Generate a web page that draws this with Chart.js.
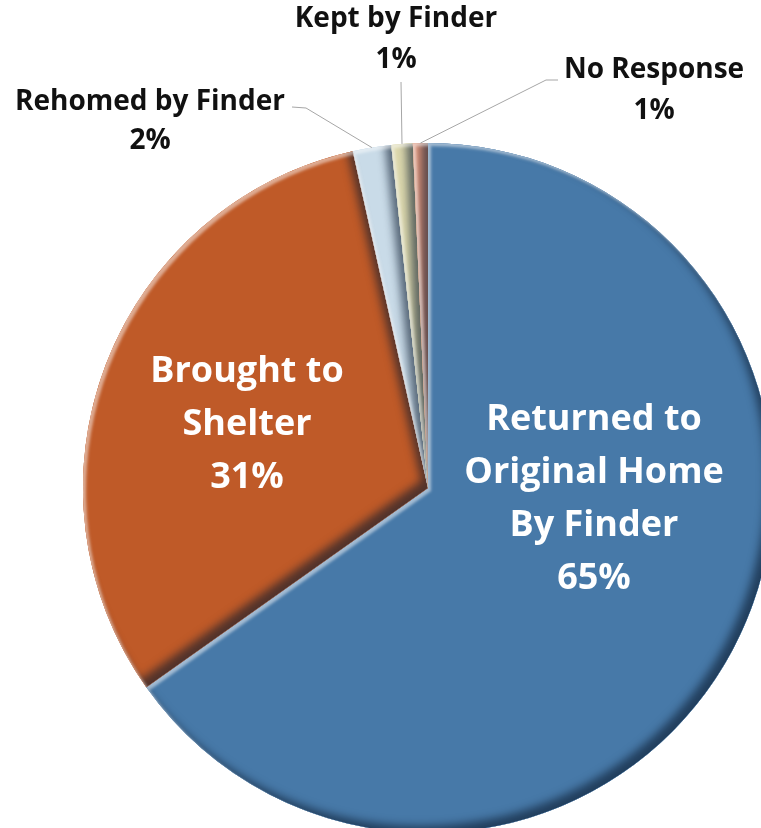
<!DOCTYPE html>
<html>
<head>
<meta charset="utf-8">
<script src="https://cdn.jsdelivr.net/npm/chart.js@4.4.1/dist/chart.umd.min.js"></script>
<style>
  html, body { margin: 0; padding: 0; background: #fff; overflow: hidden; }
  #wrap { position: relative; width: 761px; height: 828px; overflow: hidden; }
  #pie { position: absolute; left: 0; top: 0; }
</style>
</head>
<body>
<div id="wrap"><canvas id="pie" width="773" height="833"></canvas></div>
<script>
// slice names (one entry per line of the label)
const categories = [
  ["Returned to", "Original Home", "By Finder"],
  ["Brought to", "Shelter"],
  ["Rehomed by Finder"],
  ["Kept by Finder"],
  ["No Response"]
];
// share of responses, percent
const shares = [65.2, 31.3, 1.8, 1.0, 0.7];
const sliceColors = ["#4779a8", "#bf5a28", "#c9dbe8", "#dcd8ad", "#e4987d"];

// where the label text sits (inside labels for big slices, callouts for small ones)
const labelSpots = [
  { x: 594, y: 420, gap: 53, color: "#fff", size: 36 },
  { x: 247, y: 372, gap: 53, color: "#fff", size: 36 },
  { x: 150, y: 102, gap: 39, color: "#111", size: 28, leader: [[292, 107], [306, 108]] },
  { x: 396, y: 19, gap: 41, color: "#111", size: 28, leader: [[401, 82]] },
  { x: 654, y: 70, gap: 41, color: "#111", size: 28, leader: [[558, 80], [546, 80]] }
];

const canvas = document.getElementById("pie");

function sectorPath(ctx, x, y, r, a0, a1) {
  ctx.moveTo(x, y);
  ctx.arc(x, y, r, a0, a1);
  ctx.closePath();
}

// soft bevel: light along upper-left edges, dark along lower-right
const bevel = {
  id: "bevel",
  afterDatasetsDraw(chart) {
    const ctx = chart.ctx;
    chart.getDatasetMeta(0).data.forEach((arc, i) => {
      const p = arc.getProps(["x", "y", "startAngle", "endAngle", "outerRadius"]);
      ctx.save();
      ctx.beginPath();
      sectorPath(ctx, p.x, p.y, p.outerRadius, p.startAngle, p.endAngle);
      ctx.clip();
      const passes = [
        [-7, -7, 8, "rgba(10,25,45,0.6)"],
        [3, 3, 3, "rgba(255,255,255,0.5)"]
      ];
      passes.forEach(([dx, dy, blur, col]) => {
        ctx.save();
        ctx.beginPath();
        ctx.rect(-3000, -3000, 7000, 7000);
        sectorPath(ctx, p.x, p.y, p.outerRadius, p.startAngle, p.endAngle);
        ctx.shadowColor = col;
        ctx.shadowBlur = blur;
        ctx.shadowOffsetX = dx;
        ctx.shadowOffsetY = dy;
        ctx.fillStyle = sliceColors[i];
        ctx.fill("evenodd");
        ctx.restore();
      });
      ctx.restore();
    });
  }
};

const sliceLabels = {
  id: "sliceLabels",
  afterDraw(chart) {
    const ctx = chart.ctx;
    const arcs = chart.getDatasetMeta(0).data;
    ctx.save();
    arcs.forEach((arc, i) => {
      const spot = labelSpots[i];
      if (spot.leader) {
        const p = arc.getProps(["x", "y", "startAngle", "endAngle", "outerRadius"]);
        const mid = (p.startAngle + p.endAngle) / 2;
        const ex = p.x + Math.cos(mid) * p.outerRadius;
        const ey = p.y + Math.sin(mid) * p.outerRadius;
        ctx.beginPath();
        ctx.moveTo(spot.leader[0][0], spot.leader[0][1]);
        spot.leader.slice(1).forEach(pt => ctx.lineTo(pt[0], pt[1]));
        ctx.lineTo(ex, ey);
        ctx.strokeStyle = "#a6a6a6";
        ctx.lineWidth = 1;
        ctx.stroke();
      }
      const lines = categories[i].concat([Math.round(shares[i]) + "%"]);
      ctx.fillStyle = spot.color;
      ctx.font = "bold " + spot.size + "px 'Open Sans'";
      ctx.textAlign = "center";
      ctx.textBaseline = "middle";
      lines.forEach((t, k) => ctx.fillText(t, spot.x, spot.y + k * spot.gap));
    });
    ctx.restore();
  }
};

new Chart(canvas, {
  type: "pie",
  data: {
    labels: categories.map(c => c.join(" ")),
    datasets: [{ data: shares, backgroundColor: sliceColors, borderWidth: 0 }]
  },
  options: {
    responsive: false,
    animation: false,
    layout: { padding: { left: 83, top: 143, right: 0, bottom: 0 } },
    plugins: { legend: { display: false }, tooltip: { enabled: false } }
  },
  plugins: [bevel, sliceLabels]
});
</script>
</body>
</html>
